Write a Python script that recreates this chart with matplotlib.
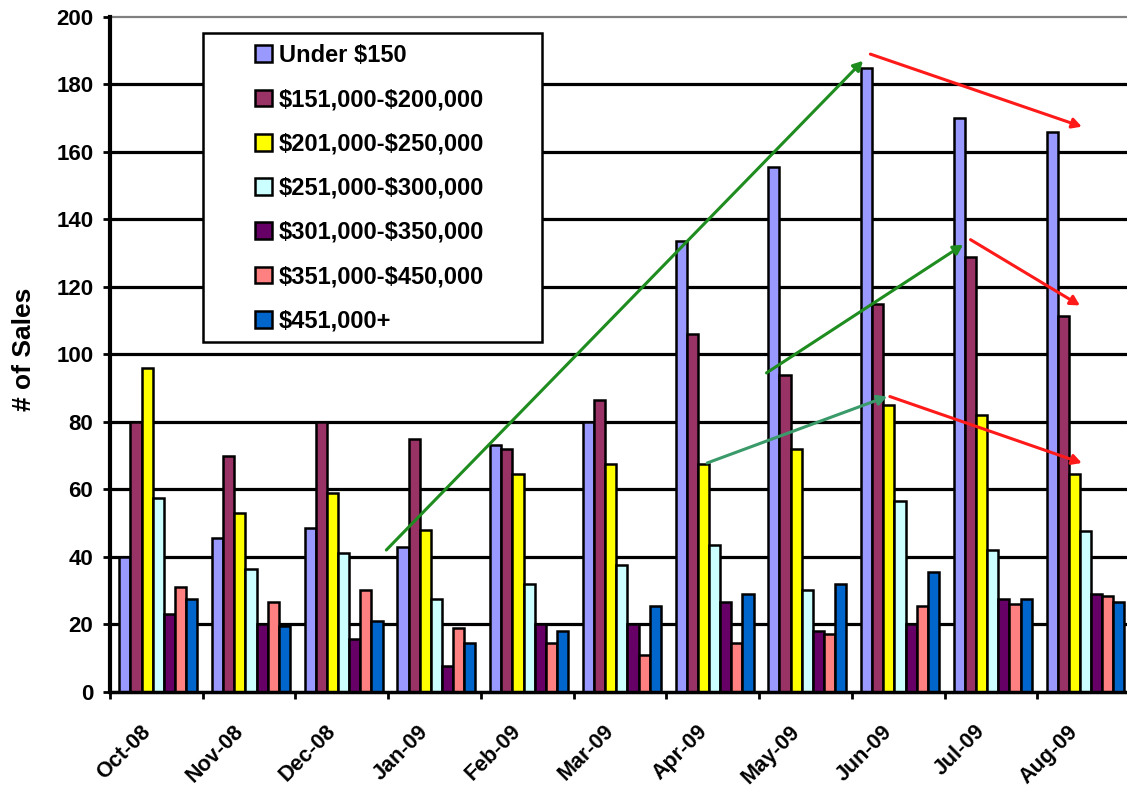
import matplotlib
matplotlib.use("Agg")
import matplotlib.pyplot as plt
import matplotlib.transforms as mtransforms
import numpy as np
from matplotlib.patches import Rectangle

plt.rcParams['font.family'] = ['Liberation Sans', 'DejaVu Sans']
plt.rcParams['font.weight'] = 'bold'

months = ["Oct-08", "Nov-08", "Dec-08", "Jan-09", "Feb-09", "Mar-09",
          "Apr-09", "May-09", "Jun-09", "Jul-09", "Aug-09"]
price_ranges = ["Under $150", "$151,000-$200,000", "$201,000-$250,000",
                "$251,000-$300,000", "$301,000-$350,000", "$351,000-$450,000",
                "$451,000+"]

under_150 = [40, 45.5, 48.5, 43, 73, 80, 133.5, 155.5, 185, 170, 166]
r151_200 = [80, 70, 80, 75, 72, 86.5, 106, 94, 115, 129, 111.5]
r201_250 = [96, 53, 59, 48, 64.5, 67.5, 67.5, 72, 85, 82, 64.5]
r251_300 = [57.5, 36.5, 41, 27.5, 32, 37.5, 43.5, 30, 56.5, 42, 47.5]
r301_350 = [23, 20, 15.5, 7.5, 20, 20, 26.5, 18, 20, 27.5, 29]
r351_450 = [31, 26.5, 30, 19, 14.5, 11, 14.5, 17, 25.5, 26, 28.5]
r451_up = [27.5, 19.5, 21, 14.5, 18, 25.5, 29, 32, 35.5, 27.5, 26.5]

y_ticks = [0, 20, 40, 60, 80, 100, 120, 140, 160, 180, 200]

# trend arrows (start, end) in data coordinates
rise_arrows = [((2.48, 42.0), (7.62, 187.0)),
               ((6.58, 94.5), (8.70, 132.5)),
               ((5.94, 67.8), (7.88, 87.5))]
fall_arrows = [((7.70, 189.0), (9.98, 167.5)),
               ((8.78, 134.0), (9.96, 114.5)),
               ((7.91, 87.5), (9.98, 67.8))]

series = [under_150, r151_200, r201_250, r251_300, r301_350, r351_450, r451_up]
colors = ["#9999FF", "#993366", "#FFFF00", "#CCFFFF", "#660066", "#FF8080", "#0066CC"]
rise_colors = ["#1E8C1E", "#1E8C1E", "#3A9A6A"]
fall_color = "#FF1A1A"

W, H = 1127, 790
fig = plt.figure(figsize=(W / 100, H / 100), dpi=100)
ax = fig.add_axes([110 / W, 1 - 691.7 / H, 1020 / W, (691.7 - 17) / H])

x = np.arange(len(months))
bw = 0.12
offset = 0.02
for j, (vals, c, lab) in enumerate(zip(series, colors, price_ranges)):
    ax.bar(x + (j - 3) * bw + offset, vals, width=bw, color=c,
           edgecolor="black", linewidth=1.8, label=lab.replace("$", r"\$"),
           zorder=3)

for v in y_ticks[1:-1]:
    ax.axhline(v, color="black", linewidth=2.3, zorder=1)
ax.axhline(y_ticks[-1], color="#808080", linewidth=1.6, zorder=1, clip_on=False)

ax.set_xlim(-0.5, len(months) - 0.5)
ax.set_ylim(0, 200)
ax.set_yticks(y_ticks)
ax.tick_params(axis="y", direction="out", length=5, width=2, pad=7,
               labelsize=16, colors="black")
ax.set_xticks(x)
ax.set_xticklabels(months, rotation=45, ha="right", rotation_mode="anchor",
                   va="center", fontsize=15.5, fontweight="bold")
ax.set_xticks(np.arange(-0.5, len(months)), minor=True)
ax.tick_params(axis="x", which="major", length=0, pad=26.5)
ax.tick_params(axis="x", which="minor", direction="out", length=5, width=2)
shift = mtransforms.ScaledTranslation(-9 / 100, 0, fig.dpi_scale_trans)
for lbl in ax.get_xticklabels():
    lbl.set_transform(lbl.get_transform() + shift)
for lbl in ax.get_yticklabels():
    lbl.set_fontweight("bold")

for s in ["top", "right"]:
    ax.spines[s].set_visible(False)
ax.spines["left"].set_linewidth(3)
ax.spines["bottom"].set_linewidth(2.5)
ax.spines["left"].set_zorder(4)
ax.spines["bottom"].set_zorder(4)

arrow_kw = dict(arrowstyle="-|>,head_length=0.55,head_width=0.3",
                linewidth=2.2, shrinkA=0, shrinkB=0)
for (start, end), c in zip(rise_arrows, rise_colors):
    ax.annotate("", xy=end, xytext=start,
                arrowprops=dict(color=c, **arrow_kw), zorder=6)
for start, end in fall_arrows:
    ax.annotate("", xy=end, xytext=start,
                arrowprops=dict(color=fall_color, **arrow_kw), zorder=6)

fig.text(24 / W, 1 - 349 / H, "# of Sales", rotation=90, ha="center",
         va="center", fontsize=19, fontweight="bold")

# legend box
box = Rectangle((203 / W, 1 - 342 / H), 339 / W, 309 / H,
                transform=fig.transFigure, facecolor="white",
                edgecolor="black", linewidth=1.8, zorder=7)
fig.add_artist(box)
leg = fig.legend(loc="upper left", bbox_to_anchor=(255 / W, 1 - 44 / H),
                 frameon=False, fontsize=17, handlelength=0.72,
                 handleheight=0.72, handletextpad=0.3, labelspacing=0.9,
                 borderpad=0, borderaxespad=0)
leg.set_zorder(8)
for t in leg.get_texts():
    t.set_fontweight("bold")

fig.savefig("out.png", dpi=100)
